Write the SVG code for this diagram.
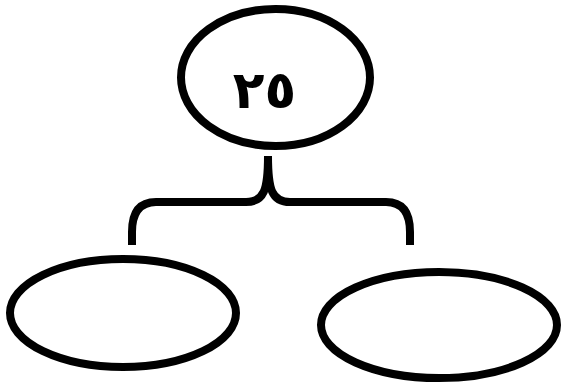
<svg xmlns="http://www.w3.org/2000/svg" width="563" height="383" viewBox="0 0 563 383">
<style>
.shape{fill:#fff;stroke:#000;stroke-width:8}
.conn{fill:none;stroke:#000;stroke-width:8;stroke-linecap:butt;stroke-linejoin:round}
.lbl{font-family:"DejaVu Sans",sans-serif;font-weight:bold;font-size:52px;fill:#000;text-anchor:middle}
</style>
<rect width="563" height="383" fill="#fff"/>
<g id="connectors">
<path class="conn" d="M268 156 C268 190 264 202 246 202 L156 202 C140 202 132 212 132 232 L132 245"/>
<path class="conn" d="M268 156 C268 190 272 202 290 202 L386 202 C402 202 410 212 410 232 L410 245"/>
</g>
<g id="node-top">
<ellipse class="shape" cx="275.5" cy="77.5" rx="94.5" ry="68.5"/>
<text class="lbl" x="264.5" y="108">٢٥</text>
</g>
<g id="node-left">
<ellipse class="shape" cx="123" cy="313" rx="113" ry="54"/>
</g>
<g id="node-right">
<ellipse class="shape" cx="439" cy="325" rx="118" ry="53"/>
</g>
</svg>
